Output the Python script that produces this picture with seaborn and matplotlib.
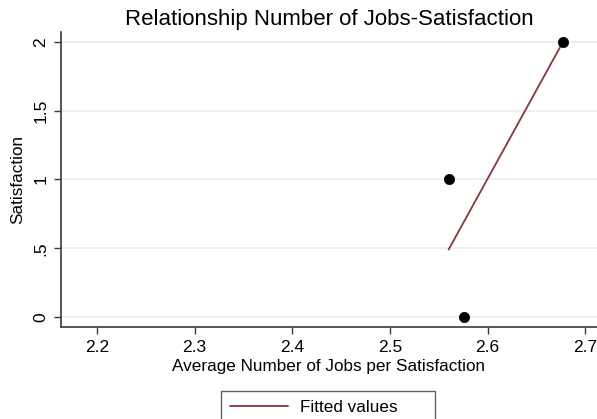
import matplotlib
matplotlib.use("Agg")
import matplotlib.pyplot as plt
import seaborn as sns

# ── Data ─────────────────────────────────────────────────────
avg_jobs = [2.560, 2.576, 2.677]
satisfaction = [1, 0, 2]

# fitted line endpoints
fit_x = [2.560, 2.677]
fit_y = [0.49, 2.0]

x_ticks = [2.2, 2.3, 2.4, 2.5, 2.6, 2.7]
y_ticks = [0, 0.5, 1, 1.5, 2]
y_tick_labels = ["0", ".5", "1", "1.5", "2"]

# ── Style ────────────────────────────────────────────────────
sns.set_theme(style="white")
plt.rcParams["font.family"] = ["Liberation Sans", "DejaVu Sans"]
plt.rcParams["text.color"] = "black"
plt.rcParams["axes.labelcolor"] = "black"

W, H = 597, 419
fig = plt.figure(figsize=(W / 100, H / 100), dpi=100)
ax = fig.add_axes([61 / W, 1 - 327 / H, (597 - 61) / W, (327 - 32) / H])

axis_col = "#3a3a3a"
line_col = "#90353b"

for y in y_ticks:
    ax.axhline(y, color="#e6eef0", lw=1.2, zorder=0)

sns.lineplot(x=fit_x, y=fit_y, color=line_col, lw=1.3, ax=ax,
             label="Fitted values", zorder=2)
sns.scatterplot(x=avg_jobs, y=satisfaction, color="black", s=55,
                edgecolor="black", linewidth=0.5, ax=ax, legend=False, zorder=3)

ax.set_xlim(2.1633, 2.7119)
ax.set_ylim(-0.073, 2.073)
ax.set_xticks(x_ticks)
ax.set_xticklabels([f"{v:.1f}" for v in x_ticks])
ax.set_yticks(y_ticks)
ax.set_yticklabels(y_tick_labels, rotation=90, va="center")

for side in ["top", "right"]:
    ax.spines[side].set_visible(False)
for side in ["left", "bottom"]:
    ax.spines[side].set_color(axis_col)
    ax.spines[side].set_linewidth(1.2)

ax.tick_params(axis="both", which="major", direction="out", length=5,
               width=1, color=axis_col, labelsize=12.5, pad=4, labelcolor="black")
ax.tick_params(axis="x", bottom=True)
ax.tick_params(axis="y", left=True)

ax.set_xlabel("Average Number of Jobs per Satisfaction", fontsize=12.3, labelpad=3)
ax.set_ylabel("Satisfaction", fontsize=12.3, labelpad=6)
ax.set_title("Relationship Number of Jobs-Satisfaction", fontsize=16, pad=5)

# Stata-style legend: box below the plot, extra room on the right
ax.get_legend().remove()
handles, labels = ax.get_legend_handles_labels()
leg = fig.legend(handles, [l + " " * 6 for l in labels], loc="upper center",
                 bbox_to_anchor=(328 / W, 1 - 391 / H), fontsize=12.3,
                 frameon=True, fancybox=False, edgecolor=axis_col,
                 handlelength=3.4, handletextpad=0.7, borderpad=0.5,
                 borderaxespad=0)
leg.get_frame().set_linewidth(1.0)

fig.savefig("out.png", dpi=100)
plt.close(fig)
